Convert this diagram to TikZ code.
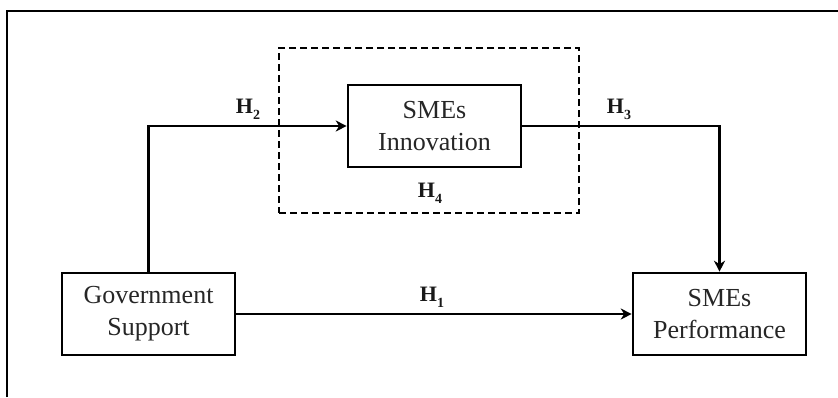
\documentclass[tikz,border=0pt]{standalone}
\usepackage{fontspec}
\setmainfont{Liberation Serif}
\usetikzlibrary{arrows.meta}
\newcommand\hlab[1]{\textbf{H\raisebox{-0.28em}{\fontsize{14}{14}\selectfont #1}}}
\begin{document}
\begin{tikzpicture}[x=1pt,y=-1pt,
  box/.style={draw, line width=2.6pt, minimum width=173pt, minimum height=82pt, inner sep=0pt,
    align=center, font=\fontsize{26}{32}\selectfont, text=black!85},
  dbox/.style={draw, line width=2.4pt, dash pattern=on 7pt off 4pt, minimum width=300pt, minimum height=165pt, inner sep=0pt},
  conn/.style={line width=2.3pt, -{Stealth[length=11pt,width=11pt,inset=3.5pt]}},
  hyp/.style={font=\fontsize{22}{26}\selectfont, text=black!90, inner sep=0pt}]
\useasboundingbox (0,0) rectangle (838,397);
\coordinate (fbl) at (7,397);
\coordinate (ftl) at (7,11);
\coordinate (ftr) at (838,11);
\draw[line width=2.2pt] (fbl) -- (ftl) -- (ftr);
\node[dbox] (med) at (429,130.5) {};
\node[box] (innov) at (434.5,126) {SMEs\\Innovation};
\node[box] (gov) at (148.5,314) {Government\\Support};
\node[box] (perf) at (719.5,314) {SMEs\\Performance};
\draw[conn] (gov.north) |- (innov.west);
\draw[conn] (innov.east) -| (perf.north);
\draw[conn] (gov.east) -- (perf.west);
\node[hyp] (h2) at (248,109) {\hlab{2}};
\node[hyp] (h3) at (619,109) {\hlab{3}};
\node[hyp] (h4) at (430,193) {\hlab{4}};
\node[hyp] (h1) at (432,297) {\hlab{1}};
\end{tikzpicture}
\end{document}
